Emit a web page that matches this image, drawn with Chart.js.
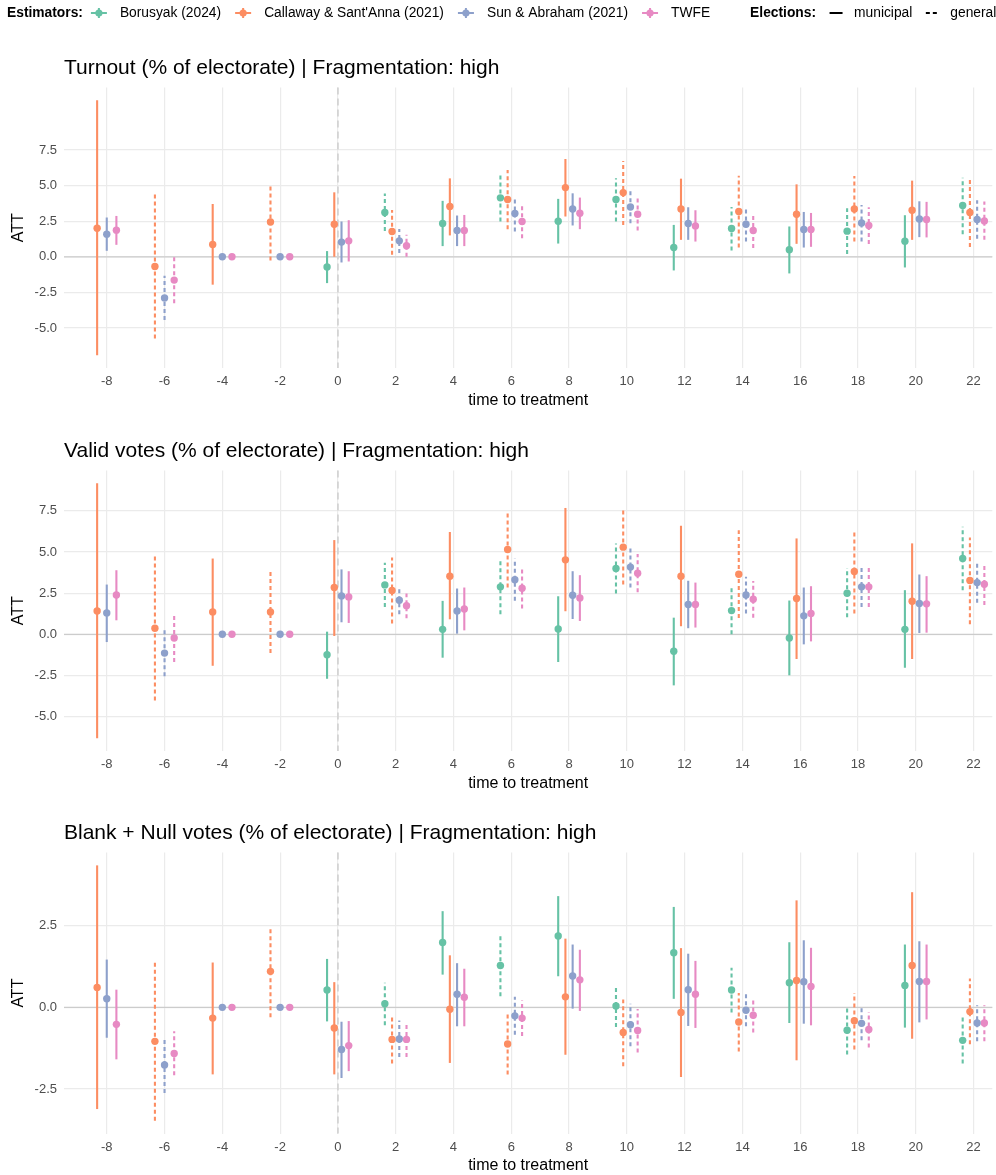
<!DOCTYPE html>
<html>
<head>
<meta charset="utf-8">
<script src="https://cdn.jsdelivr.net/npm/chart.js@4.4.1/dist/chart.umd.min.js"></script>
<style>
  html, body { margin: 0; padding: 0; background: #fff; overflow: hidden; }
  #wrap { position: relative; width: 996px; height: 1175px; overflow: hidden; }
  #wrap canvas { position: absolute; left: 0; }
</style>
</head>
<body>
<div id="wrap">
  <canvas id="p1" width="996" height="412" style="top:0px"></canvas>
  <canvas id="p2" width="996" height="383" style="top:412px"></canvas>
  <canvas id="p3" width="996" height="383" style="top:795px"></canvas>
</div>
<script>
// ---- data ----
const times = [-8, -6, -4, -2, 0, 2, 4, 6, 8, 10, 12, 14, 16, 18, 20, 22];
const elections = ['municipal', 'general', 'municipal', 'general', 'municipal', 'general', 'municipal', 'general',
                   'municipal', 'general', 'municipal', 'general', 'municipal', 'general', 'municipal', 'general'];
const estimators = ['Borusyak (2024)', "Callaway & Sant'Anna (2021)", 'Sun & Abraham (2021)', 'TWFE'];
const estimatorColors = ['#66C2A5', '#FC8D62', '#8DA0CB', '#E78AC3'];

// each entry: [estimate, ci low, ci high]
const turnoutBorusyak = [null, null, null, null, [-0.72, -1.85, 0.40], [3.11, 1.82, 4.44], [2.34, 0.75, 3.93], [4.14, 2.48, 5.79],
  [2.50, 0.93, 4.07], [4.02, 2.48, 5.51], [0.65, -0.96, 2.24], [1.99, 0.44, 3.50], [0.49, -1.17, 2.13], [1.80, 0.19, 3.41], [1.10, -0.75, 2.92], [3.60, 1.59, 5.56]];
const turnoutCallaway = [[2.01, -6.92, 11.0], [-0.68, -5.75, 4.42], [0.86, -1.96, 3.71], [2.45, -0.26, 5.14], [2.29, 0.0, 4.53], [1.78, 0.14, 3.29], [3.53, 1.50, 5.51], [4.02, 1.94, 6.10],
  [4.86, 2.83, 6.87], [4.51, 2.24, 6.73], [3.36, 1.19, 5.49], [3.18, 0.65, 5.70], [2.99, 0.91, 5.09], [3.36, 1.07, 5.68], [3.27, 1.19, 5.35], [3.11, 0.68, 5.56]];
const turnoutSunAbraham = [[1.59, 0.42, 2.76], [-2.90, -4.44, -1.33], [0, 0, 0], [0, 0, 0], [1.03, -0.40, 2.48], [1.12, 0.26, 1.96], [1.85, 0.75, 2.90], [3.04, 1.78, 4.23],
  [3.36, 2.20, 4.46], [3.50, 2.36, 4.67], [2.34, 1.19, 3.48], [2.29, 1.07, 3.48], [1.92, 0.65, 3.15], [2.38, 1.07, 3.64], [2.66, 1.38, 3.90], [2.62, 1.26, 3.97]];
const turnoutTWFE = [[1.87, 0.84, 2.87], [-1.64, -3.27, 0.0], [0, 0, 0], [0, 0, 0], [1.12, -0.33, 2.57], [0.77, 0.0, 1.54], [1.85, 0.75, 2.94], [2.48, 1.31, 3.60],
  [3.06, 1.94, 4.16], [2.99, 1.85, 4.11], [2.17, 1.07, 3.27], [1.85, 0.61, 3.08], [1.92, 0.70, 3.08], [2.20, 0.89, 3.48], [2.62, 1.36, 3.86], [2.52, 1.19, 3.88]];

const validBorusyak = [null, null, null, null, [-1.24, -2.70, 0.16], [3.00, 1.66, 4.34], [0.30, -1.42, 2.03], [2.88, 1.22, 4.54],
  [0.32, -1.68, 2.31], [4.00, 2.47, 5.52], [-1.03, -3.10, 1.01], [1.44, 0.0, 2.92], [-0.22, -2.49, 2.05], [2.49, 1.03, 4.02], [0.30, -2.03, 2.68], [4.60, 2.68, 6.53]];
const validCallaway = [[1.42, -6.31, 9.17], [0.37, -4.02, 4.75], [1.36, -1.91, 4.60], [1.36, -1.14, 3.79], [2.84, -0.10, 5.72], [2.66, 0.65, 4.67], [3.53, 0.91, 6.21], [5.15, 2.84, 7.51],
  [4.52, 1.40, 7.67], [5.29, 3.02, 7.55], [3.53, 0.49, 6.59], [3.65, 0.99, 6.31], [2.17, -1.50, 5.82], [3.81, 1.26, 6.33], [2.01, -1.50, 5.52], [3.27, 0.61, 5.88]];
const validSunAbraham = [[1.30, -0.47, 3.02], [-1.14, -2.54, 0.24], [0, 0, 0], [0, 0, 0], [2.33, 0.73, 3.94], [2.07, 1.22, 2.88], [1.42, 0.04, 2.78], [3.31, 2.03, 4.60],
  [2.37, 0.93, 3.83], [4.08, 2.84, 5.21], [1.81, 0.37, 3.25], [2.39, 1.26, 3.49], [1.12, -0.61, 2.84], [2.88, 1.66, 4.06], [1.87, 0.08, 3.63], [3.14, 1.91, 4.36]];
const validTWFE = [[2.39, 0.85, 3.89], [-0.22, -1.68, 1.20], [0, 0, 0], [0, 0, 0], [2.27, 0.69, 3.83], [1.74, 0.97, 2.47], [1.54, 0.24, 2.84], [2.80, 1.56, 4.04],
  [2.21, 0.81, 3.59], [3.71, 2.56, 4.87], [1.81, 0.41, 3.14], [2.13, 1.01, 3.23], [1.26, -0.43, 2.92], [2.88, 1.66, 4.06], [1.85, 0.10, 3.53], [3.04, 1.78, 4.26]];

const blankBorusyak = [null, null, null, null, [0.53, -0.43, 1.48], [0.11, -0.55, 0.75], [1.98, 1.00, 2.94], [1.28, 0.34, 2.23],
  [2.18, 0.95, 3.40], [0.04, -0.60, 0.67], [1.67, 0.26, 3.07], [0.53, -0.16, 1.21], [0.75, -0.48, 1.99], [-0.70, -1.44, 0.03], [0.67, -0.62, 1.92], [-1.01, -1.72, -0.27]];
const blankCallaway = [[0.61, -3.11, 4.34], [-1.04, -3.47, 1.37], [-0.33, -2.05, 1.37], [1.10, -0.30, 2.47], [-0.63, -2.05, 0.77], [-0.98, -1.72, -0.22], [-0.06, -1.70, 1.59], [-1.12, -2.05, -0.22],
  [0.32, -1.45, 2.10], [-0.77, -1.80, 0.24], [-0.16, -2.13, 1.81], [-0.45, -1.35, 0.44], [0.82, -1.62, 3.27], [-0.41, -1.29, 0.44], [1.28, -0.96, 3.52], [-0.13, -1.13, 0.88]];
const blankSunAbraham = [[0.26, -0.93, 1.46], [-1.76, -2.62, -0.91], [0, 0, 0], [0, 0, 0], [-1.29, -2.16, -0.44], [-0.97, -1.52, -0.40], [0.40, -0.58, 1.35], [-0.26, -0.84, 0.32],
  [0.96, -0.04, 1.92], [-0.53, -1.19, 0.11], [0.54, -0.57, 1.64], [-0.09, -0.58, 0.40], [0.78, -0.50, 2.05], [-0.49, -1.01, 0.03], [0.79, -0.46, 2.02], [-0.48, -1.04, 0.06]];
const blankTWFE = [[-0.52, -1.59, 0.54], [-1.41, -2.08, -0.73], [0, 0, 0], [0, 0, 0], [-1.17, -1.95, -0.42], [-0.98, -1.52, -0.45], [0.31, -0.58, 1.18], [-0.33, -0.88, 0.21],
  [0.84, -0.11, 1.76], [-0.71, -1.38, -0.05], [0.40, -0.63, 1.42], [-0.24, -0.77, 0.30], [0.64, -0.55, 1.82], [-0.68, -1.23, -0.14], [0.79, -0.37, 1.92], [-0.48, -1.04, 0.06]];

const xTicks = times;
const yTicksVotes = [-5, -2.5, 0, 2.5, 5, 7.5];
const yTicksBlank = [-2.5, 0, 2.5];

// ---- layout ----
const FONT = '"Liberation Sans", Arial, Helvetica, sans-serif';
const X_MIN = -9.48, X_MAX = 22.65;
const DODGE = 1.0;
const AREA_H = 281;
const X_AXIS_H = 44;

const panels = [
  { id: 'p1', top: 0, height: 412, areaTop: 87.5, title: 'Turnout (% of electorate) | Fragmentation: high',
    series: [turnoutBorusyak, turnoutCallaway, turnoutSunAbraham, turnoutTWFE], yTicks: yTicksVotes },
  { id: 'p2', top: 412, height: 383, areaTop: 470.5, title: 'Valid votes (% of electorate) | Fragmentation: high',
    series: [validBorusyak, validCallaway, validSunAbraham, validTWFE], yTicks: yTicksVotes },
  { id: 'p3', top: 795, height: 383, areaTop: 852.6, title: 'Blank + Null votes (% of electorate) | Fragmentation: high',
    series: [blankBorusyak, blankCallaway, blankSunAbraham, blankTWFE], yTicks: yTicksBlank }
];

// dodge estimators like ggplot's position_dodge (only those present at each time)
function buildDatasets(series) {
  const sets = estimators.map((name, i) => ({
    label: name,
    data: [],
    backgroundColor: estimatorColors[i],
    borderWidth: 0,
    pointRadius: 3.7,
    pointHoverRadius: 3.7
  }));
  times.forEach((t, k) => {
    const present = series.map((s, i) => s[k] ? i : -1).filter(i => i >= 0);
    const n = present.length;
    present.forEach((i, rank) => {
      const v = series[i][k];
      sets[i].data.push({
        x: t + (rank - (n - 1) / 2) * DODGE / n,
        y: v[0], lo: v[1], hi: v[2],
        election: elections[k]
      });
    });
  });
  return sets;
}

function yRange(series) {
  let lo = Infinity, hi = -Infinity;
  series.forEach(s => s.forEach(v => {
    if (!v) return;
    lo = Math.min(lo, v[1]);
    hi = Math.max(hi, v[2]);
  }));
  const pad = (hi - lo) * 0.05;
  return [lo - pad, hi + pad];
}

// reference lines + error bars under the points
const errorBars = {
  id: 'errorBars',
  beforeDatasetsDraw(chart) {
    const { ctx, chartArea, scales: { x, y } } = chart;
    ctx.save();
    const y0 = y.getPixelForValue(0);
    ctx.strokeStyle = '#CCCCCC';
    ctx.lineWidth = 1.3;
    ctx.beginPath();
    ctx.moveTo(chartArea.left, y0);
    ctx.lineTo(chartArea.right, y0);
    ctx.stroke();

    const x0 = x.getPixelForValue(0);
    ctx.strokeStyle = '#D4D4D4';
    ctx.lineWidth = 1.8;
    ctx.setLineDash([7, 4]);
    ctx.beginPath();
    ctx.moveTo(x0, chartArea.top);
    ctx.lineTo(x0, chartArea.bottom);
    ctx.stroke();

    ctx.lineWidth = 2.1;
    chart.data.datasets.forEach(ds => {
      ctx.strokeStyle = ds.backgroundColor;
      ds.data.forEach(p => {
        const px = x.getPixelForValue(p.x);
        ctx.setLineDash(p.election === 'general' ? [4, 3] : []);
        ctx.beginPath();
        ctx.moveTo(px, y.getPixelForValue(p.lo));
        ctx.lineTo(px, y.getPixelForValue(p.hi));
        ctx.stroke();
      });
    });
    ctx.restore();
  }
};

// panel title, left aligned with the plot area
const panelTitle = {
  id: 'panelTitle',
  afterDraw(chart, args, opts) {
    const { ctx, chartArea } = chart;
    ctx.save();
    ctx.font = '21px ' + FONT;
    ctx.fillStyle = '#000';
    ctx.textBaseline = 'middle';
    ctx.textAlign = 'left';
    ctx.fillText(opts.text, chartArea.left, chartArea.top - 19.5);
    ctx.restore();
  }
};

// legend strip at the top of the page
const topLegend = {
  id: 'topLegend',
  afterDraw(chart, args, opts) {
    if (!opts.show) return;
    const ctx = chart.ctx;
    const y = 13;
    ctx.save();
    ctx.textBaseline = 'middle';
    ctx.textAlign = 'left';
    ctx.fillStyle = '#000';
    ctx.font = 'bold 13.8px ' + FONT;
    let x = 7;
    ctx.fillText('Estimators:', x, y);
    x += ctx.measureText('Estimators:').width + 16;
    ctx.font = '13.8px ' + FONT;
    estimators.forEach((name, i) => {
      const c = x;
      ctx.strokeStyle = estimatorColors[i];
      ctx.fillStyle = estimatorColors[i];
      ctx.lineWidth = 2;
      ctx.beginPath();
      ctx.moveTo(c - 8, y); ctx.lineTo(c + 8, y);
      ctx.moveTo(c, y - 5); ctx.lineTo(c, y + 5);
      ctx.stroke();
      ctx.beginPath();
      ctx.arc(c, y, 3.6, 0, Math.PI * 2);
      ctx.fill();
      ctx.fillStyle = '#000';
      ctx.fillText(name, c + 21, y);
      x = c + 21 + ctx.measureText(name).width + (i < estimators.length - 1 ? 22 : 40);
    });
    ctx.font = 'bold 13.8px ' + FONT;
    ctx.fillText('Elections:', x, y);
    x += ctx.measureText('Elections:').width + 20;
    ctx.font = '13.8px ' + FONT;
    ['municipal', 'general'].forEach((name, i) => {
      ctx.strokeStyle = '#000';
      ctx.lineWidth = 2;
      ctx.setLineDash(i === 0 ? [] : [4, 3]);
      ctx.beginPath();
      ctx.moveTo(x - 6.5, y); ctx.lineTo(x + 6.5, y);
      ctx.stroke();
      ctx.setLineDash([]);
      ctx.fillText(name, x + 18, y);
      x = x + 18 + ctx.measureText(name).width + 20;
    });
    ctx.restore();
  }
};

panels.forEach((p, idx) => {
  const [yMin, yMax] = yRange(p.series);
  const areaBottom = p.areaTop + AREA_H;
  new Chart(document.getElementById(p.id), {
    type: 'scatter',
    data: { datasets: buildDatasets(p.series) },
    options: {
      responsive: false,
      animation: false,
      devicePixelRatio: 1,
      layout: {
        padding: {
          top: p.areaTop - p.top,
          bottom: Math.max(0, p.top + p.height - areaBottom - X_AXIS_H),
          left: 0,
          right: 0
        }
      },
      plugins: {
        legend: { display: false },
        tooltip: { enabled: false },
        panelTitle: { text: p.title },
        topLegend: { show: idx === 0 }
      },
      scales: {
        x: {
          type: 'linear',
          min: X_MIN,
          max: X_MAX,
          afterBuildTicks: s => { s.ticks = xTicks.map(v => ({ value: v })); },
          afterFit: s => { s.height = X_AXIS_H; },
          grid: { color: '#EBEBEB', lineWidth: 1.2, drawTicks: false },
          border: { display: false },
          ticks: { color: '#4D4D4D', font: { family: FONT, size: 13 }, padding: 6, maxRotation: 0 },
          title: { display: true, text: 'time to treatment', color: '#000', font: { family: FONT, size: 16 }, padding: { top: 0, bottom: 2 } }
        },
        y: {
          type: 'linear',
          min: yMin,
          max: yMax,
          afterBuildTicks: s => { s.ticks = p.yTicks.map(v => ({ value: v })); },
          afterFit: s => { s.width = 64; },
          grid: { color: '#EBEBEB', lineWidth: 1.2, drawTicks: false },
          border: { display: false },
          ticks: { color: '#4D4D4D', font: { family: FONT, size: 13 }, padding: 7, callback: v => v.toFixed(1) },
          title: { display: true, text: 'ATT', color: '#000', font: { family: FONT, size: 16 }, padding: { top: 9, bottom: 0 } }
        }
      }
    },
    plugins: [errorBars, panelTitle, topLegend]
  });
});
</script>
</body>
</html>
